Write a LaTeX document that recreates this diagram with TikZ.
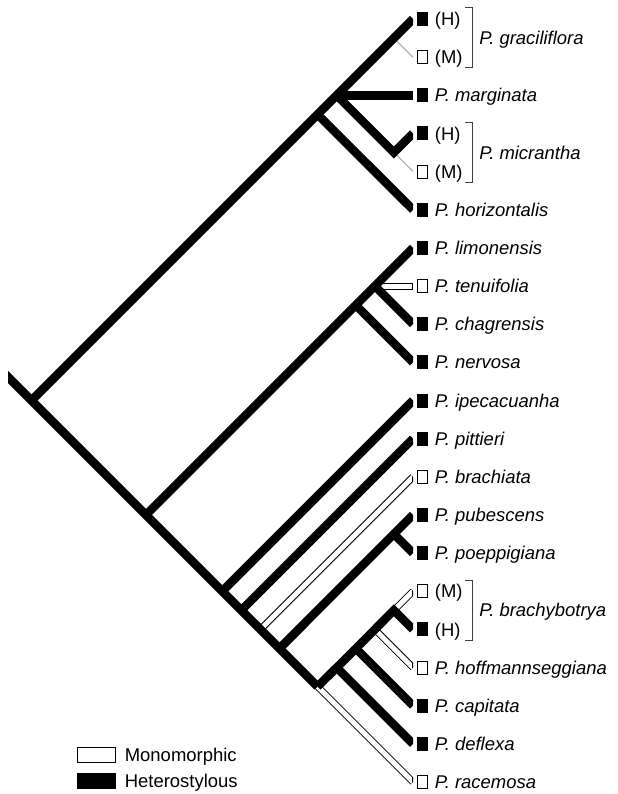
\documentclass[tikz,border=0pt]{standalone}
\usepackage{fontspec}
\setmainfont{Liberation Sans}
\usepackage{tikz}
\usetikzlibrary{positioning}

\begin{document}
\fontsize{10.5pt}{12.6pt}\selectfont
\begin{tikzpicture}[
    x=0.2mm, y=-0.2mm,
    hetero/.style={line width=1.7mm, line join=miter, black},
    monoout/.style={line width=1.4mm, black},
    monoin/.style={line width=1.0mm, white},
    faint/.style={line width=0.25mm, gray!60},
    tipH/.style={rectangle, draw, fill=black, line width=0.2mm, minimum width=2mm, minimum height=2.6mm, inner sep=0pt},
    tipM/.style={rectangle, draw, fill=white, line width=0.2mm, minimum width=2mm, minimum height=2.6mm, inner sep=0pt},
    taxon/.style={anchor=west, inner sep=0pt, text height=2.64mm, text depth=0pt, font=\itshape},
    morph/.style={anchor=west, inner sep=0pt, text height=2.64mm, text depth=0pt},
    bracket/.style={line width=0.2mm, black!75},
    legbox/.style={rectangle, draw, line width=0.2mm, minimum width=7.6mm, minimum height=3mm, inner sep=0pt}
]
\useasboundingbox (0,0) rectangle (617,794);

% Tree nodes
\coordinate (stub) at (0,369);
\coordinate (root) at (31.5,400.5);
\coordinate (nA) at (317.6,114.4);
\coordinate (nA1) at (336.7,95.3);
\coordinate (nGrac) at (393.9,38.1);
\coordinate (nMic) at (393.9,152.5);
\coordinate (nB) at (145.95,514.95);
\coordinate (nB1) at (355.8,305.1);
\coordinate (nB2) at (374.85,286.05);
\coordinate (nC) at (222.25,591.25);
\coordinate (nD) at (241.3,610.3);
\coordinate (nE) at (260.4,629.4);
\coordinate (nF) at (279.5,648.5);
\coordinate (nPub) at (393.9,534.0);
\coordinate (nG) at (317.6,686.6);
\coordinate (nH) at (336.7,667.55);
\coordinate (nI) at (355.8,648.5);
\coordinate (nJ) at (374.85,629.4);
\coordinate (nBrb) at (393.9,610.3);

% Branch ends
\coordinate (gracH-tip) at (413,19.00);
\coordinate (gracM-tip) at (413,57.15);
\coordinate (marg-tip) at (413,95.30);
\coordinate (micH-tip) at (413,133.45);
\coordinate (micM-tip) at (413,171.60);
\coordinate (hori-tip) at (413,209.75);
\coordinate (limo-tip) at (413,247.90);
\coordinate (tenu-tip) at (413,286.05);
\coordinate (chag-tip) at (413,324.20);
\coordinate (nerv-tip) at (413,362.35);
\coordinate (ipec-tip) at (413,400.50);
\coordinate (pitt-tip) at (413,438.65);
\coordinate (brac-tip) at (413,476.80);
\coordinate (pube-tip) at (413,514.95);
\coordinate (poep-tip) at (413,553.10);
\coordinate (brbM-tip) at (413,591.25);
\coordinate (brbH-tip) at (413,629.40);
\coordinate (hoff-tip) at (413,667.55);
\coordinate (capi-tip) at (413,705.70);
\coordinate (defl-tip) at (413,743.85);
\coordinate (race-tip) at (413,782.00);

% Monomorphic branches (outline)
\begin{scope}
\clip (8,0) rectangle (413,794);
\draw[monoout] (nB2) -- (tenu-tip);
\draw[monoout] (nE) -- (brac-tip);
\draw[monoout] (nBrb) -- (brbM-tip);
\draw[monoout] (nJ) -- (hoff-tip);
\draw[monoout] (nG) -- (race-tip);
\draw[faint] (nGrac) -- (gracM-tip);
\draw[faint] (nMic) -- (micM-tip);
\end{scope}
\begin{scope}
\clip (8,0) rectangle (411.8,794);
\draw[monoin] (nB2) -- (tenu-tip);
\draw[monoin] (nE) -- (brac-tip);
\draw[monoin] (nBrb) -- (brbM-tip);
\draw[monoin] (nJ) -- (hoff-tip);
\draw[monoin] (nG) -- (race-tip);
\end{scope}

% Heterostylous branches
\begin{scope}
\clip (8,0) rectangle (413,794);
\draw[hetero] (stub) -- (root) -- (nB) -- (nC) -- (nD) -- (nE) -- (nF) -- (nG);
\draw[hetero] (root) -- (nA) -- (nA1) -- (nGrac) -- (gracH-tip);
\draw[hetero] (nA) -- (hori-tip);
\draw[hetero] (nA1) -- (marg-tip);
\draw[hetero] (nA1) -- (nMic) -- (micH-tip);
\draw[hetero] (nB) -- (nB1) -- (nB2) -- (limo-tip);
\draw[hetero] (nB1) -- (nerv-tip);
\draw[hetero] (nB2) -- (chag-tip);
\draw[hetero] (nC) -- (ipec-tip);
\draw[hetero] (nD) -- (pitt-tip);
\draw[hetero] (nF) -- (nPub) -- (pube-tip);
\draw[hetero] (nPub) -- (poep-tip);
\draw[hetero] (nG) -- (nH) -- (nI) -- (nJ) -- (nBrb) -- (brbH-tip);
\draw[hetero] (nH) -- (defl-tip);
\draw[hetero] (nI) -- (capi-tip);
\end{scope}

% Tip states
\node[tipH] (gracH) at (422,19.00) {};
\node[tipM] (gracM) at (422,57.15) {};
\node[tipH] (marg) at (422,95.30) {};
\node[tipH] (micH) at (422,133.45) {};
\node[tipM] (micM) at (422,171.60) {};
\node[tipH] (hori) at (422,209.75) {};
\node[tipH] (limo) at (422,247.90) {};
\node[tipM] (tenu) at (422,286.05) {};
\node[tipH] (chag) at (422,324.20) {};
\node[tipH] (nerv) at (422,362.35) {};
\node[tipH] (ipec) at (422,400.50) {};
\node[tipH] (pitt) at (422,438.65) {};
\node[tipM] (brac) at (422,476.80) {};
\node[tipH] (pube) at (422,514.95) {};
\node[tipH] (poep) at (422,553.10) {};
\node[tipM] (brbM) at (422,591.25) {};
\node[tipH] (brbH) at (422,629.40) {};
\node[tipM] (hoff) at (422,667.55) {};
\node[tipH] (capi) at (422,705.70) {};
\node[tipH] (defl) at (422,743.85) {};
\node[tipM] (race) at (422,782.00) {};

% Labels
\node[morph, right=1.4mm of gracH] (gracH-lab) {(H)};
\node[morph, right=1.4mm of gracM] (gracM-lab) {(M)};
\node[taxon] (grac-lab) at (479,38.1) {P. graciliflora};
\node[taxon, right=1.4mm of marg] (marg-lab) {P. marginata};
\node[morph, right=1.4mm of micH] (micH-lab) {(H)};
\node[morph, right=1.4mm of micM] (micM-lab) {(M)};
\node[taxon] (mic-lab) at (479,152.5) {P. micrantha};
\node[taxon, right=1.4mm of hori] (hori-lab) {P. horizontalis};
\node[taxon, right=1.4mm of limo] (limo-lab) {P. limonensis};
\node[taxon, right=1.4mm of tenu] (tenu-lab) {P. tenuifolia};
\node[taxon, right=1.4mm of chag] (chag-lab) {P. chagrensis};
\node[taxon, right=1.4mm of nerv] (nerv-lab) {P. nervosa};
\node[taxon, right=1.4mm of ipec] (ipec-lab) {P. ipecacuanha};
\node[taxon, right=1.4mm of pitt] (pitt-lab) {P. pittieri};
\node[taxon, right=1.4mm of brac] (brac-lab) {P. brachiata};
\node[taxon, right=1.4mm of pube] (pube-lab) {P. pubescens};
\node[taxon, right=1.4mm of poep] (poep-lab) {P. poeppigiana};
\node[morph, right=1.4mm of brbM] (brbM-lab) {(M)};
\node[morph, right=1.4mm of brbH] (brbH-lab) {(H)};
\node[taxon] (brb-lab) at (479,610.3) {P. brachybotrya};
\node[taxon, right=1.4mm of hoff] (hoff-lab) {P. hoffmannseggiana};
\node[taxon, right=1.4mm of capi] (capi-lab) {P. capitata};
\node[taxon, right=1.4mm of defl] (defl-lab) {P. deflexa};
\node[taxon, right=1.4mm of race] (race-lab) {P. racemosa};

% Brackets for species with both morphs
\draw[bracket] (465,8) -- (472,8) -- (472,68) -- (465,68);
\draw[bracket] (465,122.5) -- (472,122.5) -- (472,182.6) -- (465,182.6);
\draw[bracket] (465,580.3) -- (472,580.3) -- (472,640.4) -- (465,640.4);

% Legend
\node[legbox, fill=white] (monobox) at (96,755) {};
\node[morph, right=1.8mm of monobox] (mono-lab) {Monomorphic};
\node[legbox, fill=black] (heterobox) at (96,781) {};
\node[morph, right=1.8mm of heterobox] (hetero-lab) {Heterostylous};

\end{tikzpicture}
\end{document}
